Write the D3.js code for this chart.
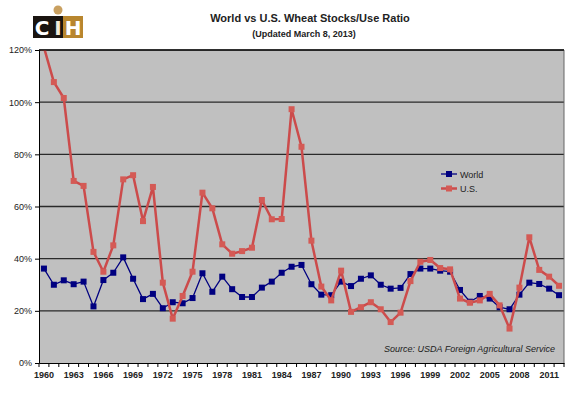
<!DOCTYPE html>
<meta charset='utf-8'>
<title>World vs U.S. Wheat Stocks/Use Ratio</title>
<style>
  body { margin: 0; background: #fff; font-family: Arial, 'Liberation Sans', sans-serif; }
  svg { display: block; }
  .grid line { stroke: #2a2a2a; stroke-width: 1.3px; }
  .axis text { font-size: 9px; fill: #222; }
  .xaxis text { font-weight: bold; }
</style>
<body>
<script src='https://cdn.jsdelivr.net/npm/d3@7'></script>
<script>

  var years = d3.range(1960, 2013)

  var world = [36.2, 30.0, 31.7, 30.2, 31.2, 21.7, 31.8, 34.6, 40.5, 32.3,
    24.5, 26.5, 21.0, 23.3, 22.9, 24.9, 34.4, 27.3, 33.1, 28.3,
    25.3, 25.3, 28.9, 31.2, 34.6, 36.9, 37.6, 30.2, 26.2, 26.0,
    31.2, 29.5, 32.3, 33.6, 30.0, 28.5, 28.8, 34.1, 36.2, 36.2,
    35.4, 35.0, 28.0, 23.5, 25.7, 24.7, 21.4, 20.6, 26.2, 30.8,
    30.3, 28.5, 26.0]

  var us = [121, 107.7, 101.6, 69.8, 67.9, 42.6, 35.0, 45.1, 70.4, 72.0,
    54.4, 67.5, 30.8, 17.0, 25.7, 35.0, 65.3, 59.3, 45.5, 41.9,
    42.9, 44.2, 62.5, 55.1, 55.2, 97.3, 82.9, 46.9, 29.3, 24.0,
    35.4, 19.6, 21.4, 23.3, 20.6, 15.7, 19.3, 31.4, 38.8, 39.5,
    36.4, 35.9, 24.7, 23.1, 24.0, 26.5, 22.1, 13.2, 28.9, 48.2,
    35.7, 33.1, 29.6]

  var yTicks = [0, 20, 40, 60, 80, 100, 120]
  var xLabels = years.filter(function(y) { return (y - 1960) % 3 === 0 })

  var width = 580, height = 394
  var pLeft = 39, pRight = 564, pTop = 50, pBottom = 363

  var svg = d3.select('body').append('svg')
    .attr('width', width)
    .attr('height', height)

  var x = d3.scaleBand().domain(years).range([pLeft, pRight]).padding(0)
  var y = d3.scaleLinear().domain([0, 120]).range([pBottom, pTop])
  var cx = function(yr) { return x(yr) + x.bandwidth() / 2 }

  // logo
  var logo = svg.append('g')
  logo.append('rect').attr('x', 33).attr('y', 16).attr('width', 30).attr('height', 22).attr('fill', '#1a1410')
  logo.append('rect').attr('x', 63).attr('y', 16).attr('width', 20).attr('height', 22).attr('fill', '#b8862e')
  logo.append('circle').attr('cx', 58).attr('cy', 10).attr('r', 4.5).attr('fill', '#c9a060')
  logo.append('text').attr('x', 42).attr('y', 35).attr('text-anchor', 'middle')
    .style('font', 'bold 20px "DejaVu Sans", Arial').attr('fill', '#fff').text('C')
  logo.append('text').attr('x', 58).attr('y', 35).attr('text-anchor', 'middle')
    .style('font', 'bold 20px "DejaVu Sans", Arial').attr('fill', '#f3ead8').text('I')
  logo.append('text').attr('x', 73).attr('y', 35).attr('text-anchor', 'middle')
    .style('font', 'bold 20px "DejaVu Sans", Arial').attr('fill', '#fff').text('H')

  // titles
  svg.append('text').attr('x', 310).attr('y', 22).attr('text-anchor', 'middle')
    .style('font', 'bold 11px Arial').attr('fill', '#222')
    .text('World vs U.S. Wheat Stocks/Use Ratio')
  svg.append('text').attr('x', 304).attr('y', 37).attr('text-anchor', 'middle')
    .style('font', 'bold 9px Arial').attr('fill', '#222')
    .text('(Updated March 8, 2013)')

  // plot background
  svg.append('rect')
    .attr('x', pLeft).attr('y', pTop)
    .attr('width', pRight - pLeft).attr('height', pBottom - pTop)
    .attr('fill', '#c0c0c0')

  svg.append('clipPath').attr('id', 'clip')
    .append('rect').attr('x', pLeft).attr('y', pTop)
    .attr('width', pRight - pLeft).attr('height', pBottom - pTop)

  // gridlines
  svg.append('g').attr('class', 'grid')
    .selectAll('line').data(yTicks.slice(1))
    .enter().append('line')
    .attr('x1', pLeft).attr('x2', pRight)
    .attr('y1', function(d) { return y(d) }).attr('y2', function(d) { return y(d) })

  svg.append('line').attr('x1', pRight).attr('x2', pRight).attr('y1', pTop).attr('y2', pBottom)
    .attr('stroke', '#666').attr('stroke-width', 1)

  // y axis
  var yAxis = d3.axisLeft(y).tickValues(yTicks).tickSize(4).tickPadding(3)
    .tickFormat(function(d) { return d + '%' })
  var gy = svg.append('g').attr('class', 'axis').attr('transform', 'translate(' + pLeft + ',0)').call(yAxis)
  gy.select('.domain').attr('stroke', '#000')
  gy.selectAll('.tick line').attr('stroke', '#000')

  // x axis
  var xAxis = d3.axisBottom(x).tickValues(xLabels).tickSize(0).tickPadding(9)
  var gx = svg.append('g').attr('class', 'axis xaxis').attr('transform', 'translate(0,' + pBottom + ')').call(xAxis)
  gx.select('.domain').attr('stroke', '#000')
  gx.selectAll('.minor').data(years.concat([2013])).enter().append('line').attr('class', 'minor')
    .attr('x1', function(d) { return d === 2013 ? pRight : x(d) })
    .attr('x2', function(d) { return d === 2013 ? pRight : x(d) })
    .attr('y1', 0).attr('y2', 4).attr('stroke', '#000')

  // series
  var series = [
    { name: 'World', values: world, color: '#000080', fill: '#000080', w: 1.3, m: 6 },
    { name: 'U.S.', values: us, color: '#cc4b4b', fill: '#d45a55', w: 2.5, m: 6 }
  ]

  var line = d3.line()
    .x(function(d, i) { return cx(years[i]) })
    .y(function(d) { return y(d) })

  var plot = svg.append('g').attr('clip-path', 'url(#clip)')

  series.forEach(function(s) {
    var g = plot.append('g')
    g.append('path').datum(s.values)
      .attr('d', line).attr('fill', 'none')
      .attr('stroke', s.color).attr('stroke-width', s.w)
      .attr('stroke-linejoin', 'round')
    g.selectAll('rect').data(s.values).enter().append('rect')
      .attr('x', function(d, i) { return cx(years[i]) - s.m / 2 })
      .attr('y', function(d) { return y(d) - s.m / 2 })
      .attr('width', s.m).attr('height', s.m)
      .attr('fill', s.fill)
  })

  svg.append('line').attr('x1', pLeft).attr('x2', pRight).attr('y1', pTop).attr('y2', pTop)
    .attr('stroke', '#000').attr('stroke-width', 1.2)

  // legend
  var legend = svg.append('g').selectAll('g').data(series).enter().append('g')
    .attr('transform', function(d, i) { return 'translate(441,' + (174 + i * 14.5) + ')' })
  legend.append('line').attr('x1', 0).attr('x2', 16)
    .attr('stroke', function(d) { return d.color }).attr('stroke-width', function(d) { return d.w })
  legend.append('rect').attr('x', 5).attr('y', -3).attr('width', 6).attr('height', 6)
    .attr('fill', function(d) { return d.fill })
  legend.append('text').attr('x', 19).attr('y', 3.5)
    .style('font', '9px Arial').attr('fill', '#222')
    .text(function(d) { return d.name })

  // source
  svg.append('text').attr('x', 384).attr('y', 352)
    .style('font', 'italic 9px Arial').attr('fill', '#222')
    .text('Source: USDA Foreign Agricultural Service')

</script>
</body>
